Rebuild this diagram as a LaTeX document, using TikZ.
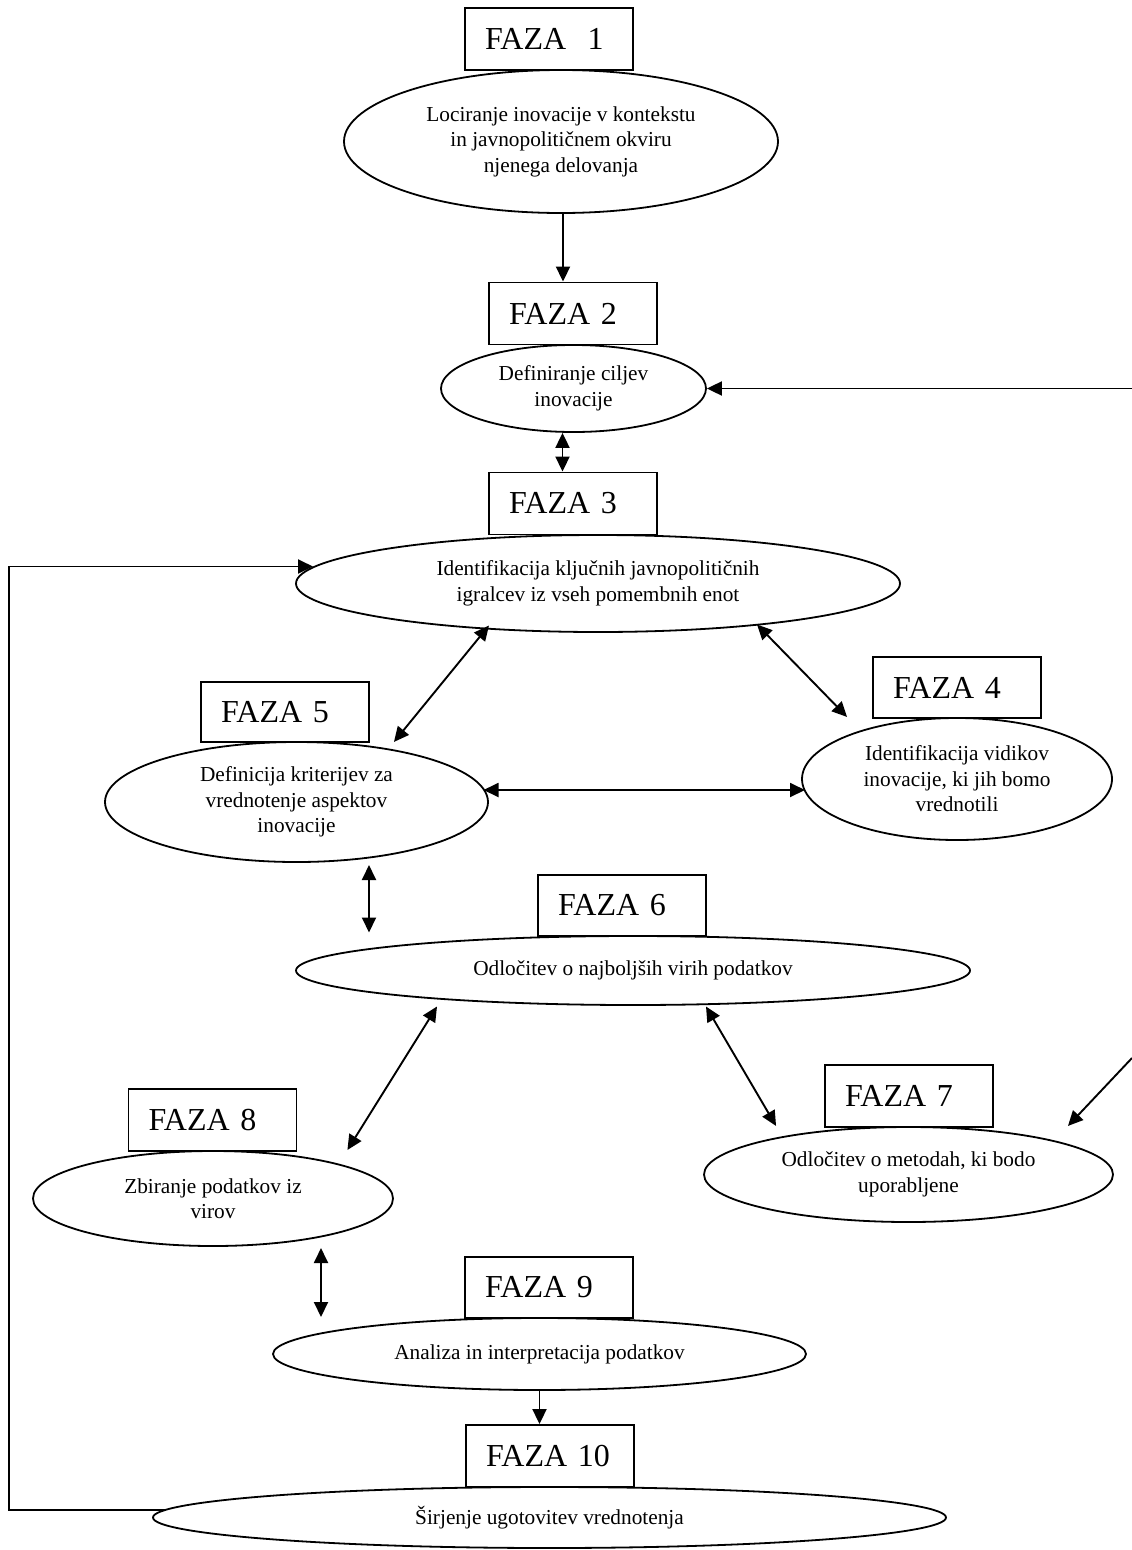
\documentclass[tikz,border=0pt]{standalone}
\usepackage{fontspec}
\setmainfont{Liberation Serif}
\usetikzlibrary{shapes.geometric,arrows.meta,calc}
\tikzset{
  faza/.style={draw, line width=1.9pt, rectangle, minimum width=168pt, minimum height=62pt,
    inner xsep=20pt, inner ysep=0pt, text width=128pt, align=left,
    font=\fontsize{32}{38}\selectfont},
  ell/.style={draw, ellipse, line width=1.8pt, inner sep=0pt, align=center,
    font=\fontsize{21.3}{25.5}\selectfont},
  arr/.style={line width=1.9pt, -{Triangle[length=15pt,width=14pt]}},
  darr/.style={line width=1.9pt, {Triangle[length=15pt,width=14pt]}-{Triangle[length=15pt,width=14pt]}}
}
\begin{document}
\begin{tikzpicture}[x=1pt,y=-1pt]
\useasboundingbox (0,0) rectangle (1132,1550);
% ellipses
\node[ell, minimum width=434pt, minimum height=143pt] (e1) at (561,141.5) {Lociranje inovacije v kontekstu\\in javnopolitičnem okviru\\njenega delovanja};
\node[ell, minimum width=265pt, minimum height=87pt] (e2) at (573.5,388.5) {Definiranje ciljev\\inovacije};
\node[ell, minimum width=604pt, minimum height=97pt] (e3) at (598,583.5) {Identifikacija ključnih javnopolitičnih\\igralcev iz vseh pomembnih enot};
\node[ell, minimum width=310pt, minimum height=122pt] (e4) at (957,779) {Identifikacija vidikov\\inovacije, ki jih bomo\\vrednotili};
\node[ell, minimum width=383pt, minimum height=120pt] (e5) at (296.5,802) {Definicija kriterijev za\\vrednotenje aspektov\\inovacije};
\node[ell, minimum width=674pt, minimum height=69pt] (e6) at (633,970.5) {Odločitev o najboljših virih podatkov};
\node[ell, minimum width=409pt, minimum height=95pt] (e7) at (908.5,1174.5) {Odločitev o metodah, ki bodo\\uporabljene};
\node[ell, minimum width=360pt, minimum height=95pt] (e8) at (213,1198.5) {Zbiranje podatkov iz\\virov};
\node[ell, minimum width=533pt, minimum height=72pt] (e9) at (539.5,1354) {Analiza in interpretacija podatkov};
\node[ell, minimum width=793pt, minimum height=61pt] (e10) at (549.5,1517.5) {Širjenje ugotovitev vrednotenja};
% phase boxes
\node[faza] (b1) at (549,39) {FAZA\ \ 1};
\node[faza] (b2) at (573,313.5) {FAZA 2};
\node[faza] (b3) at (573,503.5) {FAZA 3};
\node[faza, minimum height=61pt] (b4) at (957,687.5) {FAZA 4};
\node[faza, minimum height=60pt] (b5) at (285,712) {FAZA 5};
\node[faza, minimum height=61pt] (b6) at (622,905.5) {FAZA 6};
\node[faza] (b7) at (909,1096) {FAZA 7};
\node[faza] (b8) at (212.5,1120) {FAZA 8};
\node[faza, minimum height=61pt] (b9) at (549,1287.5) {FAZA 9};
\node[faza] (b10) at (550,1456) {FAZA 10};
% free ends
\coordinate (r2) at (1132,388.5);
\coordinate (r7) at (1132,1058);
\coordinate (lp) at (9,566.5);
% connectors
\draw[arr] ([xshift=2pt]e1.south) -- ([xshift=2pt]e1.south |- b2.north);
\draw[arr] (r2) -- (e2.east);
\draw[darr] ([xshift=-11pt]e2.south) -- ([xshift=-11pt]e2.south |- b3.north);
\draw[arr] ($(e10.center)+(-384,-7.5)$) -| (lp) -- ($(e3.center)+(-285,-17)$);
\draw[darr] ($(e3.center)+(-109,42)$) -- ($(b5.south east)+(24,-1)$);
\draw[darr] ($(e3.center)+(159,41)$) -- ($(b4.south west)+(-25,-2)$);
\draw[darr] ($(e5.center)+(187,-12)$) -- ($(e4.center)+(-152,11)$);
\draw[darr] ($(e5.center)+(72.5,63)$) -- ($(e6.center)+(-264,-38)$);
\draw[darr] ($(e6.center)+(-196,36)$) -- ($(b8.south east)+(50,-2)$);
\draw[darr] ($(e6.center)+(73,36)$) -- ($(b7.south west)+(-48,-2)$);
\draw[arr] (r7) -- ($(b7.south east)+(74,-2)$);
\draw[darr] ($(e8.center)+(108,49.5)$) -- ($(e9.center)+(-218.5,-37)$);
\draw[arr] (e9.south) -- (e9.south |- b10.north);
\end{tikzpicture}
\end{document}
